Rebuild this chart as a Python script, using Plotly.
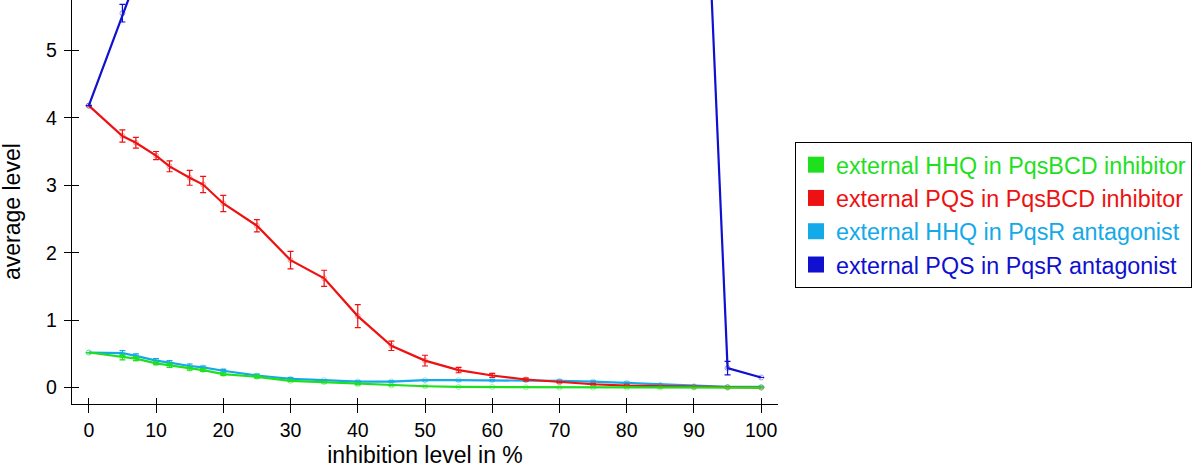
import plotly.graph_objects as go

# ---- data ----
inhibition = [0, 5, 7, 10, 12, 15, 17, 20, 25, 30, 35, 40, 45, 50, 55, 60, 65, 70, 75, 80, 85, 90, 95, 100]

hhq_pqsbcd = [0.52, 0.45, 0.43, 0.36, 0.33, 0.28, 0.26, 0.20, 0.16, 0.10, 0.08, 0.05, 0.03, 0.02, 0.01, 0.01,
              0.005, 0.0, 0.0, 0.0, 0.0, 0.0, 0.0, 0.0]
hhq_pqsbcd_err = [0, 0.04, 0.03, 0.02, 0.03, 0.02, 0.02, 0.02, 0.02, 0.01, 0.01, 0.01, 0.005, 0.005, 0, 0,
                  0, 0, 0, 0, 0, 0, 0, 0]

pqs_pqsbcd = [4.18, 3.73, 3.63, 3.44, 3.28, 3.11, 3.01, 2.73, 2.40, 1.89, 1.62, 1.06, 0.62, 0.40, 0.26, 0.18,
              0.12, 0.08, 0.05, 0.03, 0.02, 0.01, 0.005, 0.0]
pqs_pqsbcd_err = [0, 0.09, 0.08, 0.06, 0.08, 0.11, 0.12, 0.12, 0.09, 0.13, 0.12, 0.17, 0.07, 0.08, 0.04, 0.03,
                  0.02, 0.01, 0.01, 0.01, 0.005, 0.005, 0.005, 0]

hhq_pqsr = [0.52, 0.51, 0.47, 0.40, 0.37, 0.32, 0.30, 0.25, 0.18, 0.13, 0.11, 0.09, 0.09, 0.11, 0.11, 0.11,
            0.11, 0.10, 0.09, 0.07, 0.04, 0.02, 0.01, 0.01]
hhq_pqsr_err = [0, 0.04, 0.03, 0.03, 0.03, 0.03, 0.02, 0.02, 0.02, 0.02, 0.01, 0.01, 0.01, 0.01, 0.01, 0.01,
                0.01, 0.01, 0.01, 0.01, 0.005, 0.005, 0, 0]

pqs_pqsr = [4.18, 5.55, 6.05, 6.6, 7.0, 7.5, 7.9, 8.4, 9.2, 9.9, 10.5, 11.0, 11.4, 11.8, 12.1, 12.3,
            12.5, 12.6, 12.7, 12.6, 12.4, 11.9, 0.29, 0.15]
pqs_pqsr_err = [0, 0.13, 0.15, 0.15, 0.15, 0.15, 0.15, 0.15, 0.15, 0.15, 0.15, 0.15, 0.15, 0.15, 0.15, 0.15,
                0.15, 0.15, 0.15, 0.15, 0.15, 0.15, 0.10, 0]

series_names = [
    "external HHQ in PqsBCD inhibitor",
    "external PQS in PqsBCD inhibitor",
    "external HHQ in PqsR antagonist",
    "external PQS in PqsR antagonist",
]
colors = ["#1fe01f", "#ee1111", "#14a9e8", "#1010d0"]

x_ticks = [0, 10, 20, 30, 40, 50, 60, 70, 80, 90, 100]
y_ticks = [0, 1, 2, 3, 4, 5]
x_range = [-2.5, 102.5]
y_range = [-0.243, 5.746]

FONT = "Liberation Sans, Arial, Helvetica, sans-serif"

fig = go.Figure()

series = [
    (hhq_pqsr, hhq_pqsr_err, 2),
    (pqs_pqsbcd, pqs_pqsbcd_err, 1),
    (hhq_pqsbcd, hhq_pqsbcd_err, 0),
    (pqs_pqsr, pqs_pqsr_err, 3),
]
for vals, errs, idx in series:
    c = colors[idx]
    fig.add_trace(go.Scatter(
        x=inhibition, y=vals, mode="lines+markers",
        line=dict(color=c, width=2.2),
        marker=dict(symbol="circle-open", size=5, color=c, line=dict(width=1, color=c), opacity=0.4),
        error_y=dict(type="data", array=errs, visible=True, color=c, thickness=1.2, width=3),
        showlegend=False, hoverinfo="skip", cliponaxis=True,
    ))

# legend entries (coloured squares with coloured text)
for name, c in zip(series_names, colors):
    fig.add_trace(go.Scatter(
        x=[None], y=[None], mode="markers",
        marker=dict(symbol="square", size=16, color=c),
        name=f'<span style="color:{c}">{name}</span>',
        showlegend=True,
    ))

axis_common = dict(showgrid=False, zeroline=False, linecolor="black", linewidth=1.3,
                   tickcolor="black", tickwidth=1.3,
                   tickfont=dict(family=FONT, size=19.5, color="black"))

fig.update_layout(
    width=1200, height=468,
    margin=dict(l=72, r=422, t=0, b=64),
    paper_bgcolor="white", plot_bgcolor="white",
    font=dict(family=FONT, color="black"),
    xaxis=dict(range=x_range, tickvals=x_ticks, ticks="outside", ticklen=8, showline=True,
               title=dict(text="inhibition level in %", font=dict(family=FONT, size=23, color="black"),
                          standoff=10),
               **axis_common),
    yaxis=dict(range=y_range, tickvals=y_ticks, ticks="outside", ticklen=7, showline=True,
               ticklabelstandoff=3, **axis_common),
    xaxis2=dict(overlaying="x", anchor="y", side="bottom", range=x_range, tickvals=x_ticks,
                ticks="inside", ticklen=6, showticklabels=False, showline=False,
                showgrid=False, zeroline=False, tickcolor="black", tickwidth=1.3),
    yaxis2=dict(overlaying="y", anchor="x", side="left", range=y_range, tickvals=y_ticks,
                ticks="inside", ticklen=7, showticklabels=False, showline=False,
                showgrid=False, zeroline=False, tickcolor="black", tickwidth=1.3),
    legend=dict(x=(795 - 72) / 706, y=(404 - 142) / 404, xanchor="left", yanchor="top",
                bordercolor="black", borderwidth=1, bgcolor="white",
                font=dict(family=FONT, size=23.3), itemwidth=30, tracegroupgap=0),
    annotations=[dict(text="average level", xref="paper", yref="paper",
                      x=-(72 - 12) / 706, y=(404 - 212) / 404, xanchor="center", yanchor="middle",
                      textangle=-90, showarrow=False,
                      font=dict(family=FONT, size=23, color="black"))],
)

# dummy invisible trace to activate the overlay axes
fig.add_trace(go.Scatter(x=[None], y=[None], xaxis="x2", yaxis="y2", showlegend=False, hoverinfo="skip"))

fig.write_html("out.html", config={"displayModeBar": False},
               post_script="document.body.style.margin='0';document.body.style.overflow='hidden';")
